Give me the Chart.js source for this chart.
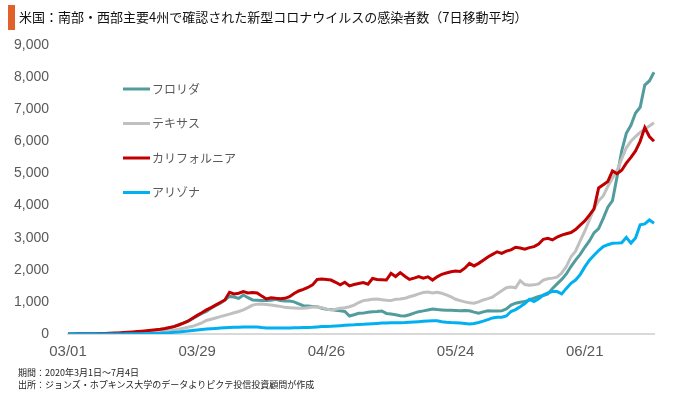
<!DOCTYPE html>
<html>
<head>
<meta charset="utf-8">
<script src="https://cdn.jsdelivr.net/npm/chart.js@4.4.0/dist/chart.umd.min.js"></script>
<style>
  body { margin: 0; background: #fff; }
  #wrap { position: relative; width: 680px; height: 395px; overflow: hidden; }
  #bar { position: absolute; left: 8px; top: 5px; width: 7px; height: 25px; background: #e0622a; }
  #ttl { position: absolute; left: 19px; top: 8px; font: 13px "Noto Sans CJK JP", sans-serif; color: #111; white-space: nowrap; line-height: 18px; }
  .note { position: absolute; left: 18px; font: 9px "Noto Sans CJK JP", sans-serif; color: #222; white-space: nowrap; line-height: 11px; }
  canvas { position: absolute; left: 0; top: 0; }
</style>
</head>
<body>
<div id="wrap">
  <canvas id="myChart" width="680" height="395"></canvas>
  <div id="bar"></div>
  <div id="ttl">米国：南部・西部主要4州で確認された新型コロナウイルスの感染者数（7日移動平均）</div>
  <div class="note" style="top:367px">期間：2020年3月1日～7月4日</div>
  <div class="note" style="top:379px">出所：ジョンズ・ホプキンス大学のデータよりピクテ投信投資顧問が作成</div>
</div>
<script>
// 2020/03/01 から日次
var xTicks = ["03/01", "03/29", "04/26", "05/24", "06/21"];
var yTicks = [0, 1000, 2000, 3000, 4000, 5000, 6000, 7000, 8000, 9000];
var names = ["フロリダ", "テキサス", "カリフォルニア", "アリゾナ"];
var colors = ["#539c9e", "#c0c0c0", "#c00000", "#00b0f0"];

var florida = [0,0,1,1,2,3,4,6,8,11, 15,20,26,33,42,52,63,75,88,100,
  120,150,190,240,290,340,400,480,560,640, 700,800,890,960,1060,1170,1150,1110,1215,1130,
  1060,1050,1040,1040,1050,1080,1040,1030,1030,1000, 940,880,870,860,850,800,770,760,740,725,
  700,560,600,645,650,675,690,700,715,640, 620,600,570,560,600,650,695,720,750,780,
  760,750,740,740,735,725,730,725,680,645, 690,725,720,715,720,780,900,960,990,1010,
  1060,1120,1170,1200,1250,1420,1560,1700,1870,2100, 2300,2480,2700,2900,3150,3280,3600,3950,4150,4900,
  5700,6250,6500,6880,7060,7750,7880,8150];
var texas = [0,0,0,1,1,2,2,3,4,5, 7,9,12,15,20,26,33,40,48,56,
  65,80,100,125,150,180,210,240,290,350, 420,460,500,540,580,620,660,700,750,820,
  900,930,935,920,900,880,860,830,820,810, 800,800,820,840,850,820,780,750,770,800,
  820,850,900,980,1040,1060,1080,1090,1070,1050, 1040,1080,1090,1110,1160,1200,1250,1290,1310,1280,
  1300,1270,1220,1160,1080,1040,1000,975,960,1000, 1060,1100,1150,1250,1350,1440,1460,1440,1660,1540,
  1520,1530,1560,1680,1720,1740,1770,1900,2100,2400, 2580,2900,3200,3550,3900,4150,4300,4600,4850,5100,
  5450,5800,6000,6150,6280,6380,6480,6580];
var california = [2,3,4,5,6,8,10,13,17,22, 28,35,43,52,63,75,88,100,115,130,
  145,170,200,230,280,340,400,490,580,660, 750,820,900,980,1060,1300,1250,1270,1320,1280,
  1290,1280,1180,1090,1130,1110,1100,1110,1160,1260, 1340,1390,1450,1530,1700,1710,1700,1680,1610,1530,
  1610,1500,1540,1570,1600,1550,1730,1700,1690,1680, 1890,1790,1910,1800,1700,1740,1785,1740,1780,1680,
  1780,1860,1900,1940,1960,1950,2050,2200,2120,2200, 2300,2400,2480,2560,2510,2580,2620,2700,2680,2640,
  2690,2720,2800,2950,2980,2930,3020,3080,3120,3160, 3250,3390,3520,3700,3900,4550,4650,4750,5080,4990,
  5100,5320,5500,5700,6000,6430,6150,6000];
var arizona = [0,0,0,0,0,0,1,1,1,2, 2,3,3,4,5,6,8,10,13,16,
  20,28,38,55,65,80,95,110,125,140, 155,165,175,185,195,205,210,210,215,218,
  218,215,200,190,185,185,185,188,190,192, 195,200,205,210,220,230,235,240,250,260,
  270,280,285,295,300,310,320,330,340,345, 350,350,350,355,365,375,385,395,405,415,
  410,380,365,355,350,340,330,310,330,360, 400,450,500,520,520,560,700,760,850,950,
  1080,1010,1100,1210,1280,1320,1320,1250,1420,1580, 1680,1850,2090,2300,2450,2600,2720,2780,2825,2830,
  2840,3010,2830,2990,3400,3430,3550,3450];

var series = [florida, texas, california, arizona];
var drawOrder = [4, 3, 2, 1];

var days = [];
var d0 = new Date(2020, 2, 1);
for (var i = 0; i < florida.length; i++) {
  var d = new Date(d0.getFullYear(), d0.getMonth(), d0.getDate() + i);
  days.push(String(d.getMonth() + 1).padStart(2, "0") + "/" + String(d.getDate()).padStart(2, "0"));
}

// 凡例はプロット内に手書き
var legendPlugin = {
  id: "inLegend",
  afterDatasetsDraw: function(chart) {
    var ctx = chart.ctx;
    ctx.save();
    ctx.font = '12px "Noto Sans CJK JP", sans-serif';
    ctx.textBaseline = "middle";
    chart.data.datasets.forEach(function(ds, i) {
      var y = 89 + i * 34.5;
      ctx.strokeStyle = ds.borderColor;
      ctx.lineWidth = 3;
      ctx.beginPath();
      ctx.moveTo(123, y);
      ctx.lineTo(150, y);
      ctx.stroke();
      ctx.fillStyle = "#595959";
      ctx.fillText(ds.label, 152, y);
    });
    ctx.restore();
  }
};

new Chart("myChart", {
  type: "line",
  data: {
    labels: days,
    datasets: series.map(function(s, i) {
      return {
        label: names[i],
        data: s,
        borderColor: colors[i],
        backgroundColor: colors[i],
        borderWidth: 3,
        pointRadius: 0,
        tension: 0,
        fill: false,
        order: drawOrder[i]
      };
    })
  },
  options: {
    responsive: false,
    animation: false,
    layout: { padding: { top: 45, right: 26, bottom: 0, left: 0 } },
    plugins: { legend: { display: false }, tooltip: { enabled: false } },
    scales: {
      x: {
        grid: { display: false, drawTicks: false },
        border: { display: true, color: "#d9d9d9", width: 2 },
        ticks: {
          autoSkip: false, maxRotation: 0, minRotation: 0, padding: 9,
          color: "#595959", font: { family: "Liberation Sans", size: 15 },
          callback: function(v, idx) { var l = days[idx]; return xTicks.indexOf(l) >= 0 ? l : ""; }
        },
        afterFit: function(s) { s.height = 61; }
      },
      y: {
        min: 0, max: 9000,
        grid: { display: false, drawTicks: false },
        border: { display: false },
        afterBuildTicks: function(s) { s.ticks = yTicks.map(function(v) { return { value: v }; }); },
        ticks: {
          padding: 19, color: "#595959", font: { family: "Liberation Sans", size: 14 },
          callback: function(v) { return v.toLocaleString("en-US"); }
        },
        afterFit: function(s) { s.width = 68; }
      }
    }
  },
  plugins: [legendPlugin]
});
</script>
</body>
</html>
